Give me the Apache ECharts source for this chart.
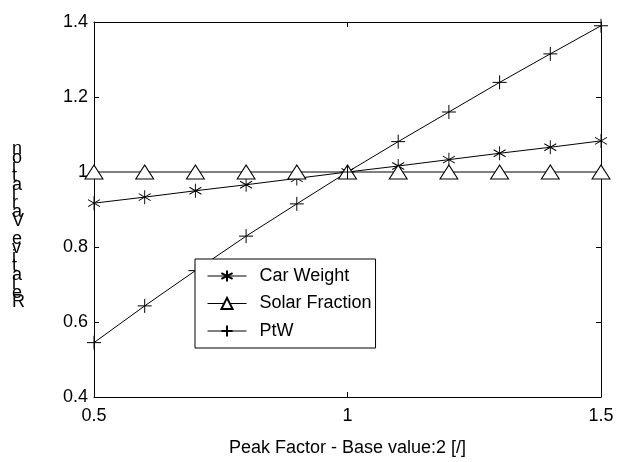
<!DOCTYPE html>
<html>
<head>
<meta charset="utf-8">
<script src="https://cdn.jsdelivr.net/npm/echarts@6/dist/echarts.min.js"></script>
<style>
  html, body { margin: 0; padding: 0; background: #fff; }
  #chart { width: 631px; height: 462px; }
</style>
</head>
<body>
<div id="chart"></div>
<script>
const peakFactor = [0.5, 0.6, 0.7, 0.8, 0.9, 1.0, 1.1, 1.2, 1.3, 1.4, 1.5];
const carWeight = [0.917, 0.933, 0.950, 0.966, 0.983, 1.0, 1.016, 1.033, 1.050, 1.066, 1.083];
const solarFraction = [1, 1, 1, 1, 1, 1, 1, 1, 1, 1, 1];
const ptw = [0.545, 0.643, 0.737, 0.829, 0.915, 1.0, 1.081, 1.160, 1.239, 1.315, 1.390];
const xTicks = [0.5, 1, 1.5];
const yTicks = [0.4, 0.6, 0.8, 1, 1.2, 1.4];

const font = 'Liberation Sans';
const asterisk = 'path://M0,-1L0,1M-0.87,-0.5L0.87,0.5M-0.87,0.5L0.87,-0.5';
const plus = 'path://M0,-1L0,1M-1,0L1,0';

function pairs(ys) {
  return peakFactor.map((x, i) => [x, ys[i]]);
}

const chart = echarts.init(document.getElementById('chart'));

const axisBase = {
  type: 'value',
  axisLine: { show: true, onZero: false, lineStyle: { color: '#000', width: 1 } },
  axisTick: { show: true, inside: true, length: 5, lineStyle: { color: '#000' } },
  splitLine: { show: false },
  axisLabel: { color: '#000', fontFamily: font, fontSize: 18 }
};

const option = {
  animation: false,
  backgroundColor: '#fff',
  grid: { left: 94, right: 30, top: 22, bottom: 62 },
  xAxis: [
    Object.assign({}, axisBase, {
      min: xTicks[0], max: xTicks[xTicks.length - 1], interval: 0.5,
      axisLabel: Object.assign({}, axisBase.axisLabel, { margin: 10 }),
      name: 'Peak Factor - Base value:2 [/]',
      nameLocation: 'middle', nameGap: 42,
      nameTextStyle: { color: '#000', fontFamily: font, fontSize: 18 }
    }),
    Object.assign({}, axisBase, {
      position: 'top', min: xTicks[0], max: xTicks[xTicks.length - 1], interval: 0.5,
      axisLabel: { show: false }
    })
  ],
  yAxis: [
    Object.assign({}, axisBase, {
      min: yTicks[0], max: yTicks[yTicks.length - 1], interval: 0.2,
      axisLabel: Object.assign({}, axisBase.axisLabel, { margin: 6 })
    }),
    Object.assign({}, axisBase, {
      position: 'right', min: yTicks[0], max: yTicks[yTicks.length - 1], interval: 0.2,
      axisLabel: { show: false }
    })
  ],
  graphic: [{
    type: 'text',
    left: 12,
    top: 140,
    style: {
      text: 'Relative Variation'.split('').reverse().join('\n'),
      font: '18px "Liberation Sans"',
      lineHeight: 9,
      fill: '#000',
      align: 'center'
    }
  }],
  legend: {
    orient: 'vertical',
    left: 195,
    top: 259,
    padding: [8, 4, 8, 12],
    itemWidth: 39,
    itemHeight: 14,
    itemGap: 9.5,
    backgroundColor: '#fff',
    borderColor: '#000',
    borderWidth: 1,
    borderRadius: 0,
    z: 10,
    lineStyle: { width: 1 },
    textStyle: { color: '#000', fontFamily: font, fontSize: 18, lineHeight: 18, padding: [0, 0, 0, 8] },
    data: ['Car Weight', 'Solar Fraction', 'PtW']
  },
  series: [
    {
      name: 'Car Weight', type: 'line', data: pairs(carWeight),
      symbol: asterisk, symbolSize: [12, 14], showAllSymbol: true,
      lineStyle: { color: '#000', width: 1 },
      itemStyle: { color: 'none', borderColor: '#000', borderWidth: 1 }
    },
    {
      name: 'Solar Fraction', type: 'line', data: pairs(solarFraction),
      symbol: 'triangle', symbolSize: [18, 14], showAllSymbol: true,
      lineStyle: { color: '#000', width: 1 },
      itemStyle: { color: '#fff', borderColor: '#000', borderWidth: 1 }
    },
    {
      name: 'PtW', type: 'line', data: pairs(ptw),
      symbol: plus, symbolSize: [14, 14], showAllSymbol: true,
      lineStyle: { color: '#000', width: 1 },
      itemStyle: { color: 'none', borderColor: '#000', borderWidth: 1 }
    }
  ]
};

chart.setOption(option);
</script>
</body>
</html>
